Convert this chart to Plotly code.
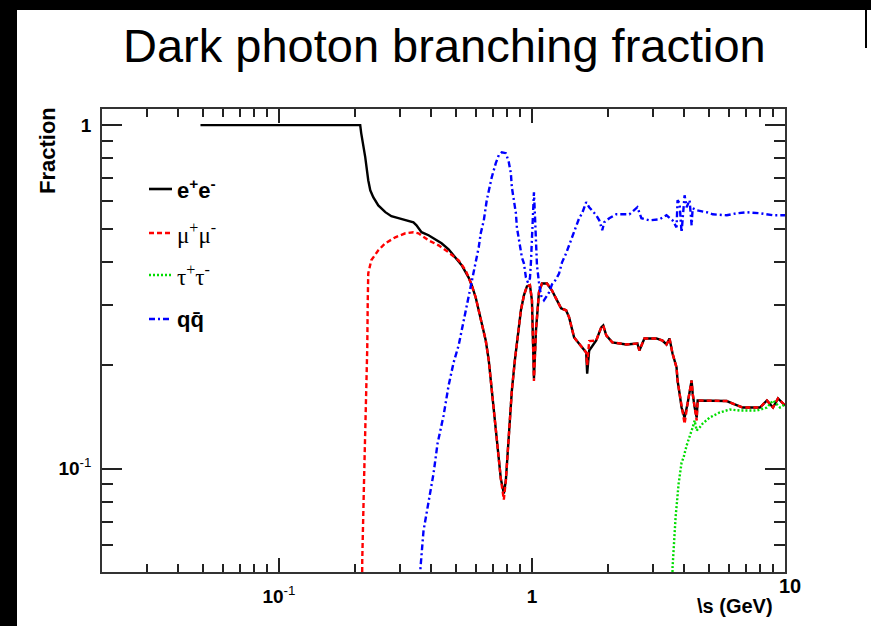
import math
import plotly.graph_objects as go

# ---------------- data (sqrt(s) in GeV, branching fraction) ----------------
ee_x = [0.049, 0.2096, 0.2115, 0.2194, 0.2255, 0.2297, 0.2360, 0.2471, 0.2634, 0.2783,
        0.2967, 0.3162, 0.3402, 0.3498, 0.3562, 0.3661, 0.3903, 0.4159, 0.4394, 0.4685,
        0.4994, 0.5275,
        0.5623, 0.5781, 0.5995, 0.6162, 0.6333, 0.6568, 0.6751, 0.6938, 0.7130, 0.7328,
        0.7533, 0.7743, 0.7886, 0.8031, 0.8179, 0.8329, 0.8560, 0.8799, 0.9045, 0.9295,
        0.9554, 0.9819, 1.0, 1.0184, 1.0373, 1.066, 1.0956, 1.147, 1.2005, 1.245,
        1.3035, 1.3646, 1.4026, 1.468, 1.5365, 1.6379, 1.6529, 1.6834, 1.7947, 1.8786,
        1.9131, 1.9664, 2.0773, 2.3605, 2.6102, 2.6583, 2.7826, 3.1055, 3.2808, 3.4021,
        3.4968, 3.594, 3.7276, 3.7618, 3.8312, 3.9019, 4.0104, 4.1218, 4.2756, 4.3155,
        4.3954, 4.4765, 4.5175, 4.7287, 5.0401, 5.8866, 6.2198, 6.8129, 7.9596, 8.484,
        8.9645, 9.381, 10.0]
ee_y = [1.0, 1.0, 0.948, 0.807, 0.691, 0.646, 0.617, 0.584, 0.558, 0.543,
        0.536, 0.528, 0.521, 0.511, 0.501, 0.488, 0.478, 0.465, 0.453, 0.435,
        0.412, 0.391,
        0.360, 0.342, 0.315, 0.289, 0.265, 0.236, 0.2065, 0.1688, 0.138, 0.1129,
        0.0935, 0.0846, 0.0923, 0.1129, 0.138, 0.1688, 0.2065, 0.2443, 0.289, 0.3193,
        0.3394, 0.342, 0.309, 0.183, 0.2525, 0.326, 0.346, 0.346, 0.330, 0.313,
        0.2928, 0.289, 0.2756, 0.2409, 0.2314, 0.2179, 0.189, 0.2208, 0.236, 0.2577,
        0.261, 0.2443, 0.2331, 0.2299, 0.2314, 0.2208, 0.2393, 0.2393, 0.236, 0.2299,
        0.2393, 0.2164, 0.197, 0.1805, 0.1655, 0.1506, 0.1408, 0.1547, 0.1805, 0.1655,
        0.1506, 0.1408, 0.1579, 0.1579, 0.1579, 0.1573, 0.1547, 0.1506, 0.1506, 0.1579,
        0.1506, 0.1600, 0.1527]

mumu_x = [0.2113, 0.2135, 0.2175, 0.2214, 0.2235, 0.2245, 0.2255, 0.2317, 0.2471, 0.2634,
          0.2886, 0.3162, 0.3402, 0.3562, 0.3903, 0.4276, 0.4685, 0.5132, 0.5470, 0.5623,
          0.5781, 0.5995, 0.6162, 0.6333, 0.6568, 0.6751, 0.6938, 0.7130, 0.7328, 0.7533,
          0.7743, 0.7886, 0.8031, 0.8179, 0.8329, 0.8560, 0.8799, 0.9045, 0.9295, 0.9554,
          0.9819, 1.0, 1.0184, 1.0373, 1.066, 1.0956, 1.147, 1.2005, 1.245, 1.3035,
          1.3646, 1.4026, 1.468, 1.5365, 1.6379, 1.6529, 1.6834, 1.7947, 1.8786, 1.9131,
          1.9664, 2.0773, 2.3605, 2.6102, 2.6583, 2.7826, 3.1055, 3.2808, 3.4021, 3.4968,
          3.594, 3.7276, 3.7618, 3.8312, 3.9019, 4.0104, 4.1218, 4.2756, 4.3155, 4.3954,
          4.4765, 4.5175, 4.7287, 5.0401, 5.8866, 6.2198, 6.8129, 7.9596, 8.484, 8.9645,
          9.381, 10.0]
mumu_y = [0.01, 0.0539, 0.0987, 0.1579, 0.2253, 0.309, 0.370, 0.404, 0.432, 0.453,
          0.4716, 0.4843, 0.4876, 0.4843, 0.462, 0.4468, 0.4263, 0.404, 0.3778, 0.360,
          0.342, 0.315, 0.289, 0.265, 0.236, 0.2065, 0.1688, 0.138, 0.1129, 0.0935,
          0.0812, 0.0923, 0.1129, 0.138, 0.1688, 0.2065, 0.2443, 0.289, 0.3193, 0.3394,
          0.342, 0.309, 0.180, 0.2525, 0.326, 0.346, 0.346, 0.330, 0.313, 0.2928,
          0.289, 0.2756, 0.2409, 0.2314, 0.2179, 0.200, 0.235, 0.236, 0.2577, 0.261,
          0.2443, 0.2331, 0.2299, 0.2314, 0.2208, 0.2393, 0.2393, 0.236, 0.2299, 0.2393,
          0.2164, 0.197, 0.1805, 0.1655, 0.1506, 0.135, 0.1547, 0.1805, 0.1655, 0.1506,
          0.1380, 0.1579, 0.1579, 0.1579, 0.1573, 0.1547, 0.1506, 0.1506, 0.1579, 0.1506,
          0.1600, 0.1527]

tau_x = [3.5617, 3.594, 3.6946, 3.7981, 3.9019, 3.9737, 4.0842, 4.1976, 4.3155, 4.3954,
         4.4765, 4.5995, 4.7287, 5.0401, 5.5224, 6.0495, 6.6273, 7.2615, 7.7426, 8.484,
         8.9645, 9.5547, 10.0]
tau_y = [0.01, 0.0514, 0.072, 0.0904, 0.1041, 0.1077, 0.1167, 0.1231, 0.1317, 0.138,
         0.1291, 0.1317, 0.1353, 0.1408, 0.1457, 0.1486, 0.1476, 0.1476, 0.1476, 0.1506,
         0.1579, 0.1506, 0.1537]

qq_x = [0.3594, 0.3627, 0.3728, 0.3903, 0.4084, 0.4236, 0.4475, 0.4685, 0.4903, 0.5132,
        0.5275, 0.5470, 0.5781, 0.5995, 0.6162, 0.6276, 0.6453, 0.6629, 0.6751, 0.6938,
        0.7197, 0.7396, 0.7603, 0.7886, 0.8102, 0.8254, 0.8329, 0.8483, 0.8641, 0.8720,
        0.8880, 0.9045, 0.9127, 0.9295, 0.9467, 0.9641, 0.9819, 0.9909, 1.0, 1.0092,
        1.0184, 1.0278, 1.0373, 1.0467, 1.066, 1.0857, 1.1158, 1.1683, 1.2005, 1.245,
        1.2797, 1.3152, 1.3646, 1.4026, 1.4412, 1.4950, 1.5365, 1.5790, 1.6379, 1.6834,
        1.7463, 1.7947, 1.8449, 1.8957, 1.9307, 2.0213, 2.1544, 2.4265, 2.6102, 2.7071,
        2.9130, 3.1917, 3.4021, 3.594, 3.7276, 3.7618, 3.8312, 3.9019, 4.0104, 4.0842,
        4.1976, 4.2756, 4.3155, 4.4765, 4.9030, 5.1795, 5.8866, 6.4520, 7.0669, 7.9596,
        8.9645, 10.0]
qq_y = [0.03, 0.0514, 0.0659, 0.0791, 0.0967, 0.1183, 0.1427, 0.1746, 0.2037, 0.2284,
        0.2525, 0.289, 0.3533, 0.396, 0.441, 0.4843, 0.528, 0.6045, 0.646, 0.7054,
        0.7749, 0.8176, 0.834, 0.8288, 0.78, 0.7246, 0.6595, 0.6045, 0.5539, 0.5042,
        0.462, 0.432, 0.412, 0.396, 0.360, 0.3484, 0.3580, 0.3987, 0.462, 0.5465,
        0.6378, 0.5465, 0.453, 0.391, 0.3484, 0.3193, 0.309, 0.326, 0.344, 0.3556,
        0.370, 0.3987, 0.4233, 0.4468, 0.478, 0.511, 0.5357, 0.5539, 0.5965, 0.5768,
        0.5576, 0.5465, 0.5284, 0.4942, 0.5216, 0.5357, 0.55, 0.55, 0.5768, 0.5357,
        0.5284, 0.532, 0.5465, 0.5284, 0.5042, 0.6045, 0.5925, 0.4876, 0.625, 0.5768,
        0.6045, 0.511, 0.5729, 0.5652, 0.5576, 0.55, 0.5465, 0.5539, 0.5576, 0.5539,
        0.5465, 0.5465]

series_names = ["e+e-", "mu+mu-", "tau+tau-", "qqbar"]
legend_labels = ["<b>e<sup>+</sup>e<sup>-</sup></b>", "\u03bc<sup>+</sup>\u03bc<sup>-</sup>",
                 "\u03c4<sup>+</sup>\u03c4<sup>-</sup>", "<b>qq\u0304</b>"]
x_tickvals = [0.1, 1]
x_ticktext = ["<b>10</b><sup>-1</sup>", "<b>1</b>"]
y_tickvals = [0.1, 1]
y_ticktext = ["<b>10</b><sup>-1</sup>", "<b>1</b>"]
x_minor = [0.03, 0.04, 0.05, 0.06, 0.07, 0.08, 0.09, 0.2, 0.3, 0.4, 0.5, 0.6, 0.7, 0.8, 0.9,
           2, 3, 4, 5, 6, 7, 8, 9]
y_minor = [0.06, 0.07, 0.08, 0.09, 0.2, 0.3, 0.4, 0.5, 0.6, 0.7, 0.8, 0.9]

# ---------------- layout geometry ----------------
W, H = 871, 626
L, R, T, B = 102, 785, 109, 572
SANS = "Liberation Sans, Arial, sans-serif"


def px(x):
    return (x - L) / (R - L)


def py(y):
    return (B - y) / (B - T)


colors = ["#000000", "#ff0000", "#00dd00", "#0000ff"]
dashes = ["solid", "5px,3px", "2px,2px", "6px,3px,2px,3px"]
data = [(ee_x, ee_y), (mumu_x, mumu_y), (tau_x, tau_y), (qq_x, qq_y)]

fig = go.Figure()
for (xs, ys), c, d, n in zip(data, colors, dashes, series_names):
    fig.add_trace(go.Scatter(x=xs, y=ys, mode="lines", name=n, showlegend=False,
                             line=dict(color=c, width=2.4, dash=d)))

tickfont = dict(family=SANS, size=19, color="black")
axis_common = dict(type="log", showline=True, linecolor="#333333", linewidth=1.6,
                   mirror="allticks", showgrid=False, zeroline=False, ticks="inside",
                   tickcolor="#222222", tickwidth=1.5, tickfont=tickfont)

fig.update_layout(
    width=W, height=H, autosize=False,
    margin=dict(l=L, r=W - R, t=T, b=H - B, pad=0),
    paper_bgcolor="white", plot_bgcolor="white",
    xaxis=dict(range=[math.log10(0.02), 1.0], tickvals=x_tickvals, ticktext=x_ticktext,
               ticklen=14, ticklabelstandoff=6,
               minor=dict(tickvals=x_minor, ticks="inside", ticklen=8, tickwidth=1.5,
                          tickcolor="#222222", showgrid=False),
               **axis_common),
    yaxis=dict(range=[math.log10(0.05), 0.047], tickvals=y_tickvals, ticktext=y_ticktext,
               ticklen=20, ticklabelstandoff=5,
               minor=dict(tickvals=y_minor, ticks="inside", ticklen=11, tickwidth=1.5,
                          tickcolor="#222222", showgrid=False),
               **axis_common),
)

annotations = [
    dict(x=px(444), y=py(46), text="Dark photon branching fraction",
         font=dict(family=SANS, size=47, color="black")),
    dict(x=px(47), y=py(151), text="<b>Fraction</b>", textangle=-90,
         font=dict(family=SANS, size=22, color="black")),
    dict(x=px(735), y=py(606), text="<b>\\s (GeV)</b>",
         font=dict(family=SANS, size=20, color="black")),
    dict(x=px(790), y=py(586), text="<b>10</b>",
         font=dict(family=SANS, size=20, color="black")),
]
leg_y = [189, 233, 275, 319]
leg_fonts = [SANS, "Liberation Serif, serif", "Liberation Serif, serif", SANS]
leg_sizes = [22, 23, 23, 22]
for lab, yy, f, s in zip(legend_labels, leg_y, leg_fonts, leg_sizes):
    annotations.append(dict(x=px(175), y=py(yy), text=lab, xanchor="left",
                            font=dict(family=f, size=s, color="black")))
for a in annotations:
    a.update(xref="paper", yref="paper", showarrow=False)
    a.setdefault("xanchor", "center")
    a.setdefault("yanchor", "middle")
fig.update_layout(annotations=annotations)

shapes = [
    dict(type="rect", x0=px(0), x1=px(W), y0=py(0), y1=py(10), fillcolor="black",
         line=dict(width=0), layer="above"),
    dict(type="rect", x0=px(0), x1=px(17), y0=py(0), y1=py(H), fillcolor="black",
         line=dict(width=0), layer="above"),
    dict(type="line", x0=px(866), x1=px(866), y0=py(10), y1=py(48),
         line=dict(color="black", width=2)),
]
for yy, c, d in zip(leg_y, colors, dashes):
    shapes.append(dict(type="line", x0=px(149), x1=px(172), y0=py(yy), y1=py(yy),
                       line=dict(color=c, width=2.6, dash=d)))
for s in shapes:
    s.update(xref="paper", yref="paper")
fig.update_layout(shapes=shapes)

fig.write_html("out.html")
